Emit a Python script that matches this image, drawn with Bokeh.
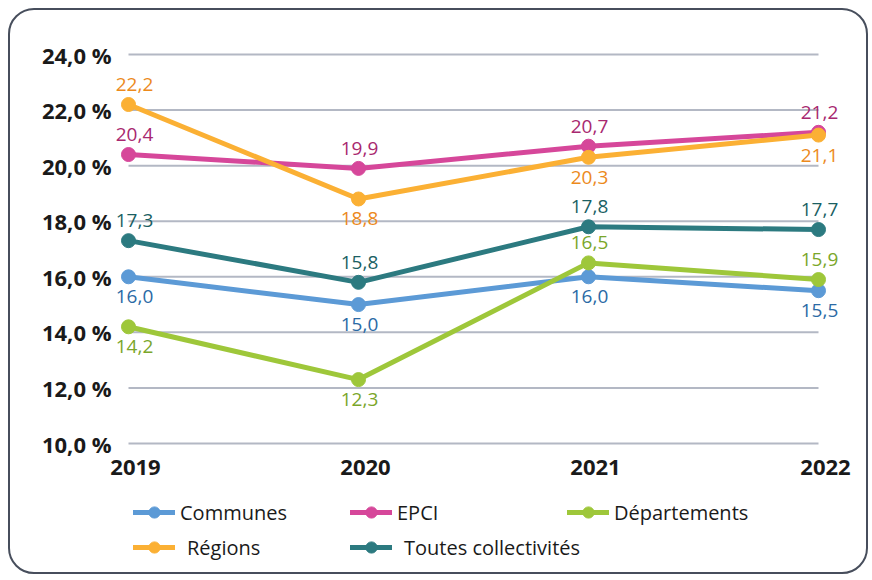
from bokeh.plotting import figure
from bokeh.models import Range1d, ColumnDataSource, Legend, LegendItem
from bokeh.core.properties import value
from bokeh.embed import file_html
from bokeh.resources import INLINE

# ---------------- data ----------------
years = [2019, 2020, 2021, 2022]
year_labels = ["2019", "2020", "2021", "2022"]

series_names = ["Communes", "EPCI", "Départements", "Régions", "Toutes collectivités"]
communes = [16.0, 15.0, 16.0, 15.5]
epci = [20.4, 19.9, 20.7, 21.2]
departements = [14.2, 12.3, 16.5, 15.9]
regions = [22.2, 18.8, 20.3, 21.1]
toutes = [17.3, 15.8, 17.8, 17.7]

y_ticks = [10, 12, 14, 16, 18, 20, 22, 24]
y_tick_labels = ["10,0 %", "12,0 %", "14,0 %", "16,0 %", "18,0 %", "20,0 %", "22,0 %", "24,0 %"]

# ---------------- style ----------------
line_colors = ["#5c9ad6", "#d6479a", "#9ec73a", "#fbb034", "#2c7a80"]
label_colors = ["#2b6aa5", "#a8286f", "#7aa62a", "#ec8a1c", "#1b5f63"]
# side of the value label for each point: +1 above, -1 below
label_sides = [
    [-1, -1, -1, -1],
    [1, 1, 1, 1],
    [-1, -1, 1, 1],
    [1, -1, -1, -1],
    [1, 1, 1, 1],
]
FONT = "Open Sans"

W, H = 860, 566
# pixel targets (canvas coordinates)
x_first_px, x_last_px = 118, 808
y_top_px, y_bot_px = 44, 433   # 24 and 10
ppx = (x_last_px - x_first_px) / (years[-1] - years[0])
ppy = (y_bot_px - y_top_px) / (y_ticks[-1] - y_ticks[0])
x_start = years[0] - x_first_px / ppx
x_end = years[-1] + (W - x_last_px) / ppx
y_end = y_ticks[-1] + y_top_px / ppy
y_start = y_ticks[0] - (H - y_bot_px) / ppy

p = figure(width=W, height=H, x_range=Range1d(x_start, x_end), y_range=Range1d(y_start, y_end),
           output_backend="svg", toolbar_location=None,
           x_axis_location=None, y_axis_location=None, min_border=0)
p.grid.visible = False
p.outline_line_color = None
p.background_fill_color = None
p.border_fill_color = None
p.margin = (8, 0, 0, 8)
p.styles = {"border": "2px solid #474e5c", "border-radius": "26px", "overflow": "hidden"}

# grid lines
p.segment(x0=[years[0]] * len(y_ticks), x1=[years[-1]] * len(y_ticks), y0=y_ticks, y1=y_ticks,
          line_color="#b3b8c4", line_width=2)

# y tick labels
p.text(x=[years[0]] * len(y_ticks), y=y_ticks, text=y_tick_labels, x_offset=-17,
       text_align="right", text_baseline="middle", text_font=value(FONT),
       text_font_size="22px", text_font_style="bold", text_color="#1a1a1a")
# year labels
p.text(x=years, y=[y_ticks[0]] * len(years), text=year_labels, x_offset=7, y_offset=24,
       text_align="center", text_baseline="middle", text_font=value(FONT),
       text_font_size="22px", text_font_style="bold", text_color="#1a1a1a")

all_values = [communes, epci, departements, regions, toutes]
items = {}
for name, vals, lc, tc, sides in zip(series_names, all_values, line_colors, label_colors, label_sides):
    src = ColumnDataSource(dict(
        x=years, y=vals,
        txt=[f"{v:.1f}".replace(".", ",") for v in vals],
        xo=[6 if i == 0 else 1 for i in range(len(years))],
        yo=[-20 if s > 0 else 20 for s in sides],
    ))
    r_line = p.line("x", "y", source=src, line_color=lc, line_width=5, line_cap="round", line_join="round")
    r_dot = p.scatter("x", "y", source=src, size=14, marker="circle", fill_color=lc, line_color=lc)
    p.text("x", "y", text="txt", source=src, x_offset="xo", y_offset="yo",
           text_align="center", text_baseline="middle", text_font=value(FONT),
           text_font_size="19px", text_color=tc)
    items[name] = LegendItem(label=name, renderers=[r_line, r_dot])


def make_legend(names, standoff, loc):
    lg = Legend(items=[items[n] for n in names], orientation="horizontal", location=loc,
                glyph_width=42, glyph_height=28, label_standoff=standoff,
                label_width=217 - 42 - standoff, spacing=0, padding=0, margin=0,
                border_line_color=None, background_fill_alpha=0,
                label_text_font=FONT, label_text_font_size="20px", label_text_color="#1a1a1a",
                label_height=28)
    return lg


p.add_layout(make_legend(["Communes", "EPCI", "Départements"], 5, (123, 50)))
p.add_layout(make_legend(["Régions", "Toutes collectivités"], 12, (123, 15)))

open("out.html", "w").write(file_html(p, INLINE))
